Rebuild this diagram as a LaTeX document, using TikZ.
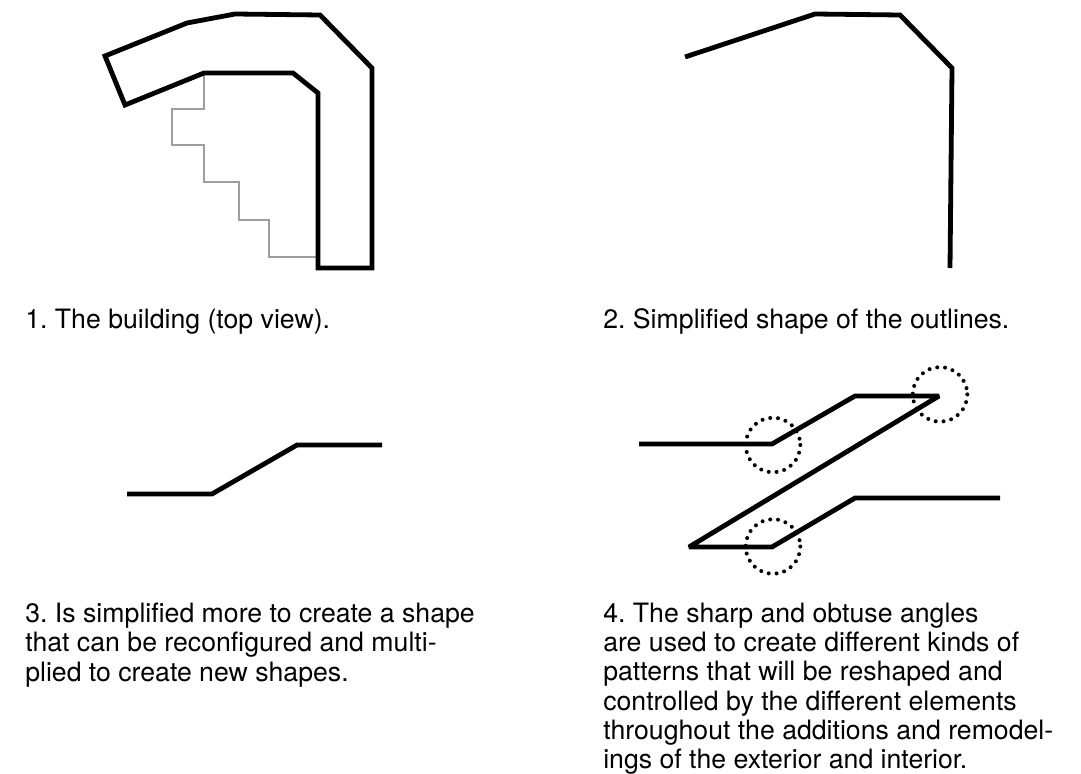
\documentclass[tikz,border=0pt]{standalone}
\usepackage{fontspec}
\setmainfont{TeX Gyre Heros}
\frenchspacing
\tikzset{
  x=0.75pt,y=-0.75pt,
  heavy/.style={line width=3.6pt,miter limit=3,black},
  greyline/.style={line width=1.5pt,color=black!38},
  dots/.style={line width=3pt,line cap=round,dash pattern=on 0pt off 5.89pt,black},
  captxt/.style={anchor=north west,inner sep=0pt,align=left,font=\fontsize{20}{22}\selectfont}
}
\begin{document}
\begin{tikzpicture}
\useasboundingbox (0,0) rectangle (1081,774);
% 1
\coordinate (a1) at (105,56);\coordinate (a2) at (187,23);\coordinate (a3) at (235,14);\coordinate (a4) at (320,15);
\coordinate (a5) at (372,68);\coordinate (a6) at (372,268);\coordinate (a7) at (318,268);\coordinate (a8) at (318,93);
\coordinate (a9) at (293,73);\coordinate (a10) at (204,73);\coordinate (a11) at (125,105);
\coordinate (g1) at (318,256.5);
\draw[greyline] (a10) -- ++(0,36) -- ++(-32,0) -- ++(0,36) -- ++(32,0) -- ++(0,37) -- ++(35,0) -- ++(0,38) -- ++(30,0) -- ++(0,36.5) -- (g1);
\draw[heavy] (a1)--(a2)--(a3)--(a4)--(a5)--(a6)--(a7)--(a8)--(a9)--(a10)--(a11)--cycle;
\node[captxt] (c1) at (25,308.5) {1. The building (top view).};
% 2
\coordinate (b1) at (685,57);\coordinate (b2) at (815,14);\coordinate (b3) at (900,15);\coordinate (b4) at (952,68);\coordinate (b5) at (950,268);
\draw[heavy] (b1)--(b2)--(b3)--(b4)--(b5);
\node[captxt] (c2) at (603,308.5) {2. Simplified shape of the outlines.};
% 3
\coordinate (d1) at (127,494);\coordinate (d2) at (212,494);\coordinate (d3) at (297,445);\coordinate (d4) at (382,445);
\draw[heavy] (d1)--(d2)--(d3)--(d4);
\node[captxt] (c3) at (25,602.6) {3. Is simplified more to create a shape\\that can be reconfigured and multi-\\plied to create new shapes.};
% 4
\coordinate (e1) at (639,444);\coordinate (e2) at (772,444);\coordinate (e3) at (855,396);\coordinate (e4) at (939,396);
\coordinate (e5) at (689,547);\coordinate (e6) at (772,547);\coordinate (e7) at (855,498);\coordinate (e8) at (1000,498);
\draw[heavy] (e1)--(e2)--(e3)--(e4)--(e5)--(e6)--(e7)--(e8);
\draw[dots] (773,445) circle[radius=27.3];
\draw[dots] (940,394.4) circle[radius=27.3];
\draw[dots] (773,546.5) circle[radius=27.3];
\node[captxt] (c4) at (603,602.6) {4. The sharp and obtuse angles\\are used to create different kinds of\\patterns that will be reshaped and\\controlled by the different elements\\throughout the additions and remodel-\\ings of the exterior and interior.};
\end{tikzpicture}
\end{document}
